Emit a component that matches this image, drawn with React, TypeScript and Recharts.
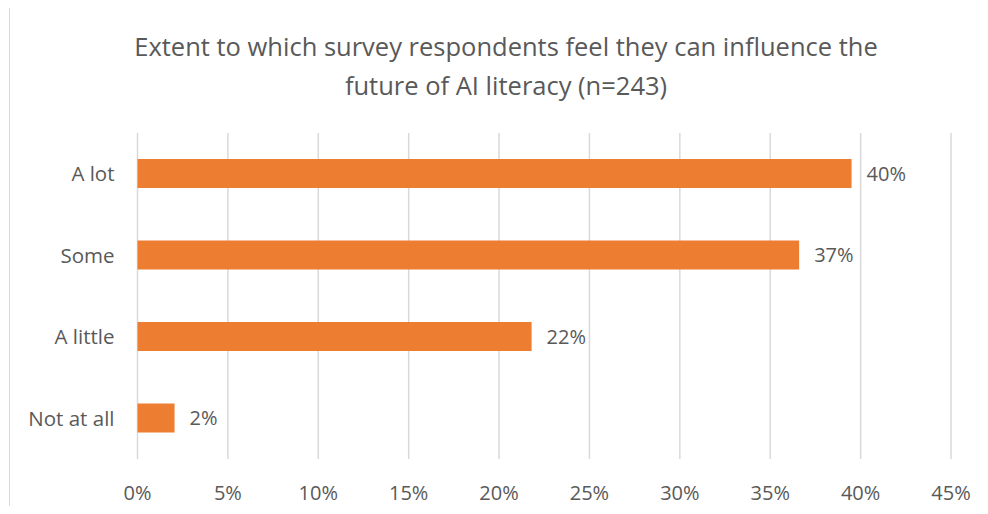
import { BarChart, Bar, XAxis, YAxis, CartesianGrid, LabelList } from 'recharts';

const categories = ['A lot', 'Some', 'A little', 'Not at all'];
const shares = [39.5, 36.6, 21.8, 2.05];
const xTicks = [0, 5, 10, 15, 20, 25, 30, 35, 40, 45];

const chartData = categories.map((name, i) => ({ name, value: shares[i] }));

const FONT = '"Open Sans", "Liberation Sans", sans-serif';
const TEXT = '#595959';

export default function App() {
  return (
    <div style={{ position: 'relative', width: 988, height: 514, margin: -8, background: '#fff', overflow: 'hidden', fontFamily: FONT }}>
      {/* outer frame, only top and left edges are visible */}
      <div
        style={{
          position: 'absolute',
          left: 9,
          top: 7,
          width: 990,
          height: 520,
          borderLeft: '1.5px solid #D9D9D9',
          borderTop: '1.5px solid #D9D9D9',
        }}
      />
      <div
        style={{
          position: 'absolute',
          left: 0,
          top: 27,
          width: 1012,
          textAlign: 'center',
          color: TEXT,
          fontSize: 25.5,
          lineHeight: '39px',
        }}
      >
        Extent to which survey respondents feel they can influence the
        <br />
        future of AI literacy (n=243)
      </div>
      <div style={{ position: 'absolute', left: 0, top: 0 }}>
        <BarChart
          width={988}
          height={514}
          data={chartData}
          layout="vertical"
          barSize={29}
          margin={{ top: 133, right: 37, left: 17.5, bottom: 15 }}
        >
          <CartesianGrid horizontal={false} stroke="#D9D9D9" strokeWidth={1.5} />
          <XAxis
            type="number"
            domain={[0, 45]}
            ticks={xTicks}
            tickFormatter={(v: number) => `${v}%`}
            axisLine={false}
            tickLine={false}
            tickMargin={21}
            height={40}
            interval={0}
            tick={{ fill: TEXT, fontSize: 20, fontFamily: FONT }}
          />
          <YAxis
            type="category"
            dataKey="name"
            width={120}
            axisLine={false}
            tickLine={false}
            tickMargin={17}
            tick={{ fill: TEXT, fontSize: 20.5, fontFamily: FONT }}
          />
          <Bar dataKey="value" fill="#ED7D31" isAnimationActive={false}>
            <LabelList
              dataKey="value"
              position="right"
              offset={15}
              formatter={(v: number) => `${Math.round(v)}%`}
              style={{ fill: TEXT, fontSize: 20, fontFamily: FONT }}
            />
          </Bar>
        </BarChart>
      </div>
    </div>
  );
}
